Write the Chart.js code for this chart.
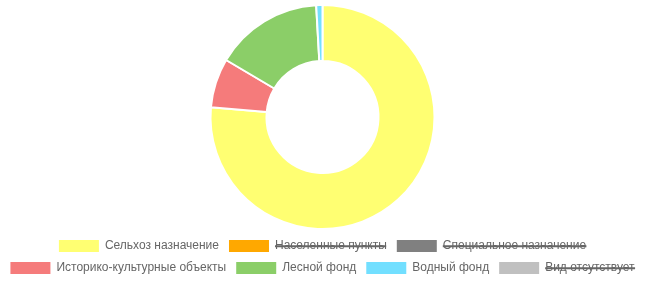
<!DOCTYPE html>
<html><head><meta charset="utf-8">
<script src="https://cdn.jsdelivr.net/npm/chart.js@4"></script>
<style>html,body{margin:0;padding:0;background:#fff}#w{width:645px;height:284px}</style>
</head><body><div id="w"><canvas id="c"></canvas></div>
<script>
const categories = ["Сельхоз назначение","Населенные пункты","Специальное назначение","Историко-культурные объекты","Лесной фонд","Водный фонд","Вид отсутствует"];
const values = [76.4, 0.5, 0.5, 7.1, 15.6, 0.9, 0.5];
const hiddenIdx = [1, 2, 6];
const colors = ["#FFFF72","#FFA800","#808080","#F57B7B","#8BCE68","#72DFFF","#C0C0C0"];
Chart.defaults.font.family = "'Liberation Sans', Arial, sans-serif";
Chart.defaults.color = "#666";
const defGen = Chart.overrides.doughnut.plugins.legend.labels.generateLabels;
const chart = new Chart(document.getElementById('c'), {
  type: 'doughnut',
  data: { labels: categories, datasets: [{ data: values, backgroundColor: colors, borderColor: '#fff', borderWidth: 2 }] },
  options: {
    responsive: true, maintainAspectRatio: false, animation: false,
    cutout: '50%',
    layout: { padding: { top: 4 } },
    plugins: {
      legend: { position: 'bottom', labels: { boxWidth: 40, font: { size: 12 },
        generateLabels: (c) => defGen(c).map(l => Object.assign(l, { lineWidth: 0 })) } },
      tooltip: { enabled: false }
    }
  }
});
hiddenIdx.forEach(i => chart.toggleDataVisibility(i));
chart.update();
</script></body></html>
